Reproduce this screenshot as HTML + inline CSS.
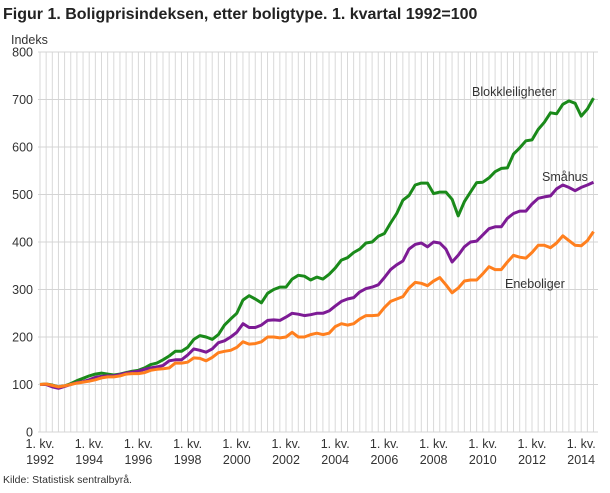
<!DOCTYPE html>
<html><head><meta charset="utf-8"><style>
body{margin:0;background:#fff;width:610px;height:488px;overflow:hidden;font-family:"Liberation Sans",sans-serif}
</style></head><body>
<svg id="s" width="610" height="488" xmlns="http://www.w3.org/2000/svg" font-family="Liberation Sans, sans-serif">
<text x="3" y="19" font-size="16" font-weight="bold" fill="#222">Figur 1. Boligprisindeksen, etter boligtype. 1. kvartal 1992=100</text>
<text x="11" y="44" font-size="12.5" fill="#333">Indeks</text>
<g id="grid"></g>
<g id="lab" font-size="12.5" fill="#333"></g>
<g id="lines" fill="none" stroke-width="3" stroke-linejoin="round"></g>
<text x="472" y="96" font-size="12.5" fill="#333">Blokkleiligheter</text>
<text x="542" y="181" font-size="12.5" fill="#333">Småhus</text>
<text x="505" y="288" font-size="12.5" fill="#333">Eneboliger</text>
<text x="3" y="483" font-size="10.5" fill="#333">Kilde: Statistisk sentralbyrå.</text>
</svg>
<script>
var NS="http://www.w3.org/2000/svg";
function el(t,a,p){var e=document.createElementNS(NS,t);for(var k in a)e.setAttribute(k,a[k]);p.appendChild(e);return e;}
var g=document.getElementById('grid'),lab=document.getElementById('lab'),L=document.getElementById('lines');
function Y(v){return 432-0.475*v;}
var x0=40,dx=6.15;
for(var i=0;i<=91;i++){var x=x0+i*dx;if(x>598)break;el('line',{x1:x,x2:x,y1:52,y2:432,stroke:'#d9d9d9','stroke-width':1},g);}
for(var v=0;v<=800;v+=100){el('line',{x1:38,x2:598,y1:Y(v),y2:Y(v),stroke:'#d4d4d4','stroke-width':1},g);
 var t=el('text',{x:33,y:Y(v)+4.5,'text-anchor':'end'},lab);t.textContent=v;}
for(var yr=1992;yr<=2014;yr+=2){var x=x0+(yr-1992)*4*dx;
 var t=el('text',{x:x,y:448,'text-anchor':'middle'},lab);t.textContent='1. kv.';
 t=el('text',{x:x,y:464,'text-anchor':'middle'},lab);t.textContent=yr;}
var B=[100,101,99,95,97,102,108,113,118,122,124,122,120,122,125,128,130,135,142,145,152,160,170,170,178,195,203,200,195,205,225,238,250,278,287,280,272,292,300,305,305,322,330,328,320,326,322,332,345,362,367,378,385,398,400,412,418,440,460,488,498,520,524,524,502,505,505,490,455,485,505,525,526,535,548,555,556,585,598,613,615,637,652,672,670,690,697,692,665,680,703];
var S=[100,100,95,92,96,100,104,106,110,115,117,118,118,121,124,126,128,132,135,137,140,150,152,152,162,175,172,168,175,188,192,200,210,228,220,220,225,235,236,235,242,250,248,245,247,250,250,255,265,275,280,283,295,302,305,310,325,342,352,360,385,395,398,390,400,398,385,358,372,390,400,402,415,428,432,432,450,460,465,465,480,492,495,497,512,520,515,508,515,520,526];
var E=[100,101,98,95,97,100,103,105,107,110,114,116,116,118,122,123,123,125,130,132,133,135,145,145,147,156,155,150,157,167,170,172,178,190,185,186,190,200,200,198,200,210,200,200,205,208,205,208,222,228,225,228,238,245,245,246,262,275,280,285,303,315,313,308,318,325,310,293,303,318,320,320,333,348,342,342,358,372,368,366,378,393,393,388,398,413,403,393,392,403,422];
[[B,'#1a8a1a'],[S,'#7d1b95'],[E,'#ff7f1e']].forEach(function(d){
 var p=d[0].map(function(v,i){return (x0+i*dx).toFixed(1)+','+Y(v).toFixed(1);}).join(' ');
 el('polyline',{points:p,stroke:d[1]},L);});
</script>
</body></html>
